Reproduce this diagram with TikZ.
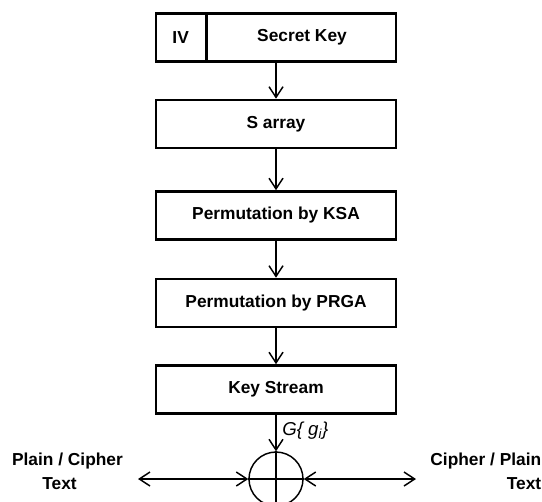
\documentclass[tikz,border=0pt]{standalone}
\usepackage{fontspec}
\setmainfont{Liberation Sans}
\usetikzlibrary{arrows.meta,calc}
\begin{document}
\begin{tikzpicture}[x=0.75pt,y=-0.75pt,
  blk/.style={draw,line width=2pt,minimum width=180pt,minimum height=36pt,inner sep=0pt,font=\fontsize{13pt}{15pt}\selectfont\bfseries},
  lbl/.style={inner sep=0pt,font=\fontsize{13pt}{18pt}\selectfont\bfseries},
  conn/.style={line width=1.1pt,-{Straight Barb[length=8pt,width=10.5pt,line width=1.1pt]}},
  dconn/.style={line width=1.1pt,{Straight Barb[length=8pt,width=10.5pt,line width=1.1pt]}-{Straight Barb[length=8pt,width=10.5pt,line width=1.1pt]}},
  xorc/.style={draw,circle,line width=1.1pt,minimum size=40.5pt,inner sep=0pt}]
\useasboundingbox (0,0) rectangle (542,501);
\clip (0,0) rectangle (542,501);
\node[blk] (key) at (276,37.5) {};
\draw[line width=2pt] ($(key.north west)+(52,0)$) coordinate (dt) -- ($(key.south west)+(52,0)$) coordinate (db);
\node[lbl] (iv) at ($(key.west)!0.5!(dt |- key.west)$) {IV};
\node[lbl] (sk) at ($(dt |- key.west)!0.5!(key.east)$) {Secret Key};
\node[blk] (sarr) at (276,124) {S array};
\node[blk] (ksa) at (276,215.5) {Permutation by KSA};
\node[blk] (prga) at (276,303) {Permutation by PRGA};
\node[blk] (ks) at (276,389.5) {Key Stream};
\node[xorc] (xor) at (276,479) {};
\draw[line width=1.1pt] (xor.west) -- (xor.east);
\draw[line width=1.1pt] (xor.north) -- ($(xor.south)+(0,10)$);
\draw[conn] (key) -- (sarr);
\draw[conn] (sarr) -- (ksa);
\draw[conn] (ksa) -- (prga);
\draw[conn] (prga) -- (ks);
\draw[conn] (ks) -- (xor);
\coordinate (lft) at (138,479);
\coordinate (rgt) at (416,479);
\draw[dconn] (lft) -- (xor.west);
\draw[dconn] (xor.east) -- (rgt);
\node[inner sep=0pt,anchor=base west,font=\fontsize{14pt}{16pt}\selectfont\itshape] (g) at (282,435.5) {G\{ g\textsubscript{i}\}};
\node[lbl,align=center] (pc) at (67.5,471) {Plain / Cipher\\Text\hspace*{12pt}};
\node[lbl,align=right,anchor=east] (cp) at (541.5,471) {Cipher / Plain\\Text};
\end{tikzpicture}
\end{document}
